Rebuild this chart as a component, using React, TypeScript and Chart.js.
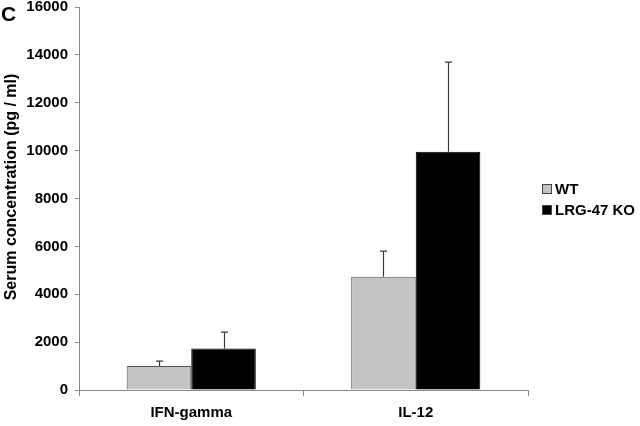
import React, { useEffect, useRef } from "react";
import { Chart, registerables } from "chart.js";

Chart.register(...registerables);

const categories = ["IFN-gamma", "IL-12"];
const wtValues = [1000, 4730];
const wtErrors = [210, 1070];
const koValues = [1730, 9950];
const koErrors = [690, 3750];
const yTicks = [0, 2000, 4000, 6000, 8000, 10000, 12000, 14000, 16000];
const seriesNames = ["WT", "LRG-47 KO"];
const yTitle = "Serum concentration (pg / ml)";
const panelLabel = "C";

const FONT = "'Liberation Sans', Arial, sans-serif";

const errorBarPlugin = {
  id: "errorBars",
  afterDatasetsDraw(chart: any) {
    const ctx = chart.ctx;
    const errs = [wtErrors, koErrors];
    const yScale = chart.scales.y;
    chart.data.datasets.forEach((ds: any, di: number) => {
      const meta = chart.getDatasetMeta(di);
      meta.data.forEach((bar: any, i: number) => {
        const top = yScale.getPixelForValue(ds.data[i] + errs[di][i]);
        const x = Math.round(bar.x) + 0.5;
        ctx.save();
        ctx.strokeStyle = "#3a3a3a";
        ctx.lineWidth = 1.2;
        ctx.beginPath();
        ctx.moveTo(x, bar.y);
        ctx.lineTo(x, top);
        ctx.moveTo(x - 3.5, top);
        ctx.lineTo(x + 3.5, top);
        ctx.stroke();
        ctx.restore();
      });
    });
  },
};

const decorPlugin = {
  id: "decor",
  afterDraw(chart: any) {
    const ctx = chart.ctx;
    ctx.save();
    ctx.fillStyle = "#000";
    ctx.font = `bold 21px ${FONT}`;
    ctx.textBaseline = "alphabetic";
    ctx.textAlign = "left";
    ctx.fillText(panelLabel, 1, 21);
    // y title
    ctx.save();
    ctx.translate(12, 187);
    ctx.rotate(-Math.PI / 2);
    ctx.font = `bold 16px ${FONT}`;
    ctx.textAlign = "center";
    ctx.textBaseline = "middle";
    ctx.fillText(yTitle, 0, 0);
    ctx.restore();
    const colors = ["#c4c4c4", "#000000"];
    const ys = [189, 210];
    ctx.font = `bold 15px ${FONT}`;
    ctx.textBaseline = "middle";
    ctx.textAlign = "left";
    seriesNames.forEach((name, i) => {
      ctx.fillStyle = colors[i];
      ctx.fillRect(542, ys[i] - 5, 10, 10);
      ctx.strokeStyle = "#444";
      ctx.lineWidth = 1;
      ctx.strokeRect(542.5, ys[i] - 4.5, 9, 9);
      ctx.fillStyle = "#000";
      ctx.fillText(name, 555, ys[i] + 1);
    });
    ctx.restore();
  },
};

export default function App() {
  const ref = useRef<HTMLCanvasElement>(null);
  useEffect(() => {
    document.body.style.margin = "0";
    const chart = new Chart(ref.current!, {
      type: "bar",
      data: {
        labels: categories,
        datasets: [
          {
            label: seriesNames[0],
            data: wtValues,
            backgroundColor: "#c4c4c4",
            borderColor: "#555",
            borderWidth: 1,
            categoryPercentage: 0.575,
            barPercentage: 1,
          },
          {
            label: seriesNames[1],
            data: koValues,
            backgroundColor: "#000",
            borderColor: "#000",
            borderWidth: 1,
            categoryPercentage: 0.575,
            barPercentage: 1,
          },
        ],
      },
      options: {
        animation: false,
        responsive: false,
        devicePixelRatio: 1,
        layout: { padding: { left: 0, right: 112, top: 7, bottom: 0 } },
        plugins: {
          legend: { display: false },
          tooltip: { enabled: false },
        },
        scales: {
          x: {
            offset: true,
            grid: {
              offset: true,
              drawOnChartArea: false,
              drawTicks: true,
              tickLength: 6,
              color: "#888",
            },
            border: { display: true, color: "#888", width: 1 },
            ticks: {
              color: "#000",
              font: { family: FONT, size: 15, weight: "bold" },
              padding: 8,
            },
            afterFit(scale: any) {
              scale.height = 36;
              scale.paddingLeft = 0;
              scale.paddingRight = 0;
            },
          },
          y: {
            min: 0,
            max: 16000,
            afterBuildTicks(scale: any) {
              scale.ticks = yTicks.map((v) => ({ value: v }));
            },
            grid: {
              drawOnChartArea: false,
              drawTicks: true,
              tickLength: 4,
              color: "#888",
            },
            border: { display: true, color: "#888", width: 1 },
            ticks: {
              color: "#000",
              font: { family: FONT, size: 15, weight: "bold" },
              padding: 7,
              callback: (v: any) => String(v),
            },
            afterFit(scale: any) {
              scale.width = 79;
              scale.paddingTop = 0;
              scale.paddingBottom = 0;
            },
          },
        },
      },
      plugins: [errorBarPlugin, decorPlugin],
    });
    return () => chart.destroy();
  }, []);
  return (
    <div style={{ position: "absolute", left: 0, top: 0, width: 640, height: 426, background: "#fff" }}>
      <canvas ref={ref} width={640} height={426} style={{ width: 640, height: 426 }} />
    </div>
  );
}
